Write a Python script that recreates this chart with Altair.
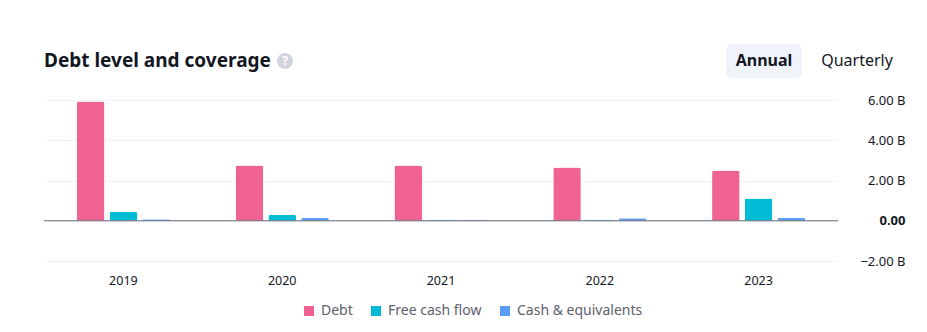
import altair as alt
import pandas as pd

years = ["2019", "2020", "2021", "2022", "2023"]
series = ["Debt", "Free cash flow", "Cash & equivalents"]
debt = [5.92, 2.75, 2.75, 2.65, 2.50]
fcf = [0.45, 0.30, 0.05, 0.05, 1.10]
cash = [0.07, 0.15, 0.05, 0.13, 0.15]
colors = ["#F06292", "#00BCD4", "#5B9CF6"]
y_ticks = [-2, 0, 2, 4, 6]

rows = []
for i, y in enumerate(years):
    for s, vals in zip(series, [debt, fcf, cash]):
        rows.append({"year": y, "series": s, "value": vals[i]})
df = pd.DataFrame(rows)

W, H = 794, 161
FONT = "Noto Sans"

bars = alt.Chart(df).mark_bar(cornerRadiusTopLeft=2, cornerRadiusTopRight=2).encode(
    x=alt.X("year:N", sort=years,
            scale=alt.Scale(paddingInner=0.414, paddingOuter=0.207),
            axis=alt.Axis(title=None, labelAngle=0, ticks=False, domain=False,
                          labelPadding=13, labelFontSize=12.5, labelColor="#131722",
                          grid=False)),
    xOffset=alt.XOffset("series:N", sort=series,
                        scale=alt.Scale(paddingInner=0.16, paddingOuter=0)),
    y=alt.Y("value:Q",
            scale=alt.Scale(domain=[-2, 6], nice=False),
            axis=alt.Axis(title=None, orient="right", values=y_ticks, domain=False,
                          ticks=False, gridColor="#F0F3FA", labelAlign="right",
                          labelPadding=67, labelFontSize=13, labelColor="#131722",
                          labelExpr="datum.value == 0 ? '0.00' : format(datum.value, '.2f') + ' B'",
                          labelFontWeight=alt.ExprRef(expr="datum.value == 0 ? 'bold' : 'normal'"))),
    color=alt.Color("series:N", sort=series,
                    scale=alt.Scale(domain=series, range=colors),
                    legend=alt.Legend(title=None, orient="none", direction="horizontal",
                                      legendX=258, legendY=204, symbolType="square",
                                      symbolSize=100, symbolStrokeWidth=0,
                                      labelFontSize=14, labelColor="#5D606B",
                                      columnPadding=16, labelOffset=5)),
)

zero = alt.Chart(pd.DataFrame({"v": [0]})).mark_rule(color="#6A6D78", strokeWidth=1).encode(
    y=alt.Y("v:Q"), x=alt.value(0), x2=alt.value(W)
)

one = pd.DataFrame({"a": [1]})
title = alt.Chart(one).mark_text(text="Debt level and coverage", align="left", baseline="middle",
                                 fontSize=19, fontWeight="bold", color="#131722", font=FONT).encode(
    x=alt.value(0), y=alt.value(-39))
icon = alt.Chart(one).mark_point(shape="circle", filled=True, size=254, color="#D1D4DC", opacity=1).encode(
    x=alt.value(241), y=alt.value(-39))
icon_q = alt.Chart(one).mark_text(text="?", align="center", baseline="middle", fontSize=13,
                                  fontWeight="bold", color="white", font=FONT).encode(
    x=alt.value(241), y=alt.value(-39))
btn = alt.Chart(one).mark_rect(fill="#F0F3FA", cornerRadius=6).encode(
    x=alt.value(682), x2=alt.value(758), y=alt.value(-56), y2=alt.value(-22))
annual = alt.Chart(one).mark_text(text="Annual", align="center", baseline="middle", fontSize=16,
                                  fontWeight="bold", color="#131722", font=FONT).encode(
    x=alt.value(720), y=alt.value(-39))
quarterly = alt.Chart(one).mark_text(text="Quarterly", align="center", baseline="middle", fontSize=16,
                                     color="#131722", font=FONT).encode(
    x=alt.value(813), y=alt.value(-39))

chart = alt.layer(bars, zero, title, icon, icon_q, btn, annual, quarterly).properties(
    width=W, height=H,
    autosize=alt.AutoSizeParams(type="none"),
    padding={"left": 44, "top": 100, "right": 927 - 44 - W, "bottom": 332 - 100 - H},
    background="white",
).configure(font=FONT, view=alt.ViewConfig(strokeWidth=0, stroke="transparent"))

chart.save("out.html", embed_options={"renderer": "svg", "actions": False})
